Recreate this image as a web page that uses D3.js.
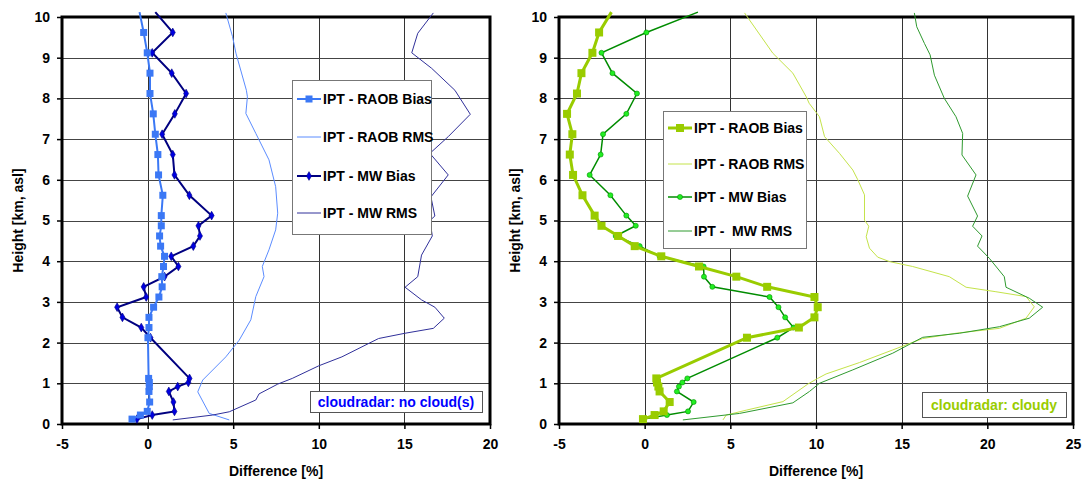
<!DOCTYPE html>
<html>
<head>
<meta charset="utf-8">
<script src="https://cdn.jsdelivr.net/npm/d3@7"></script>
<style>
    body { margin: 0; background: #fff; }
    svg { display: block; font-family: "Liberation Sans", Arial, sans-serif; }
</style>
</head>
<body>
<svg id="chart" width="1082" height="481"></svg>
<script>
"use strict";

// heights [km] of the bias profiles (levels with markers)
var biasHeights = [0.12, 0.22, 0.31, 0.54, 0.8, 0.92, 1.02, 1.12, 2.12, 2.37, 2.62, 2.87, 3.12, 3.37, 3.62, 3.87,
    4.12, 4.37, 4.62, 4.87, 5.12, 5.62, 6.12, 6.62, 7.12, 7.62, 8.12, 8.62, 9.12, 9.62, 10.12];

// left panel: no cloud(s)
var clearRaobBias = [-0.91, -0.42, -0.02, 0.12, 0.08, 0.1, 0.1, 0.06, 0.02, 0.08, 0.08, 0.35, 0.66, 0.85, 0.83, 0.93,
    0.99, 0.76, 0.7, 0.8, 0.8, 0.89, 0.64, 0.6, 0.45, 0.33, 0.14, 0.14, -0.02, -0.23, -0.47];
var clearMwBias = [-0.62, 0.27, 1.57, 1.51, 1.24, 1.76, 2.38, 2.45, 0.17, -0.37, -1.47, -1.78, -0.08, -0.23, 0.99, 1.8,
    1.38, 2.67, 3.06, 2.97, 3.74, 2.44, 1.57, 1.47, 0.85, 1.59, 2.25, 1.41, 0.27, 1.47, 0.45];
var clearRaobRmsH = [0.1, 0.26, 0.79, 1.08, 1.65, 2.06, 2.56, 3.13, 3.62, 3.87, 4.28, 4.77, 5.18, 5.83, 6.49, 6.98,
    7.14, 7.63, 8.04, 8.2, 9.11, 9.52, 10.1];
var clearRaobRms = [4.77, 3.6, 2.93, 3.22, 4.57, 5.35, 6.03, 6.32, 6.8, 6.7, 7.09, 7.48, 7.6, 7.48, 7.09, 6.51,
    6.32, 5.74, 5.83, 5.77, 5.16, 4.96, 4.57];
var clearMwRmsH = [0.1, 0.22, 0.3, 0.59, 0.74, 0.98, 1.12, 1.43, 1.65, 2.1, 2.23, 2.35, 2.6, 2.87, 3.05, 3.36, 3.62,
    4.15, 4.62, 5.0, 5.11, 5.58, 6.12, 6.65, 7.06, 7.61, 8.2, 8.74, 9.12, 9.6, 10.1];
var clearMwRms = [1.47, 3.8, 4.77, 6.32, 6.51, 7.6, 8.45, 10.0, 11.35, 13.49, 15.04, 16.69, 17.33, 16.78, 16.0, 15.04, 15.78,
    16.0, 16.63, 16.49, 16.78, 16.55, 17.56, 16.49, 17.56, 18.85, 17.95, 16.59, 15.43, 15.78, 16.69];

// right panel: cloudy
var cloudyRaobBias = [-0.1, 0.58, 1.11, 1.46, 0.87, 0.8, 0.72, 0.68, 5.97, 9.0, 9.91, 10.1, 9.91, 7.15, 5.35, 3.17,
    0.97, -0.58, -1.55, -2.52, -2.92, -3.63, -4.18, -4.37, -4.22, -4.53, -3.95, -3.69, -3.05, -2.66, -1.94];
var cloudyMwBias = [-0.06, 1.3, 2.53, 2.86, 1.88, 2.0, 2.2, 2.49, 7.74, 8.69, 8.2, 7.81, 7.29, 3.95, 3.46, 3.44,
    0.87, -0.29, -1.69, -0.52, -1.07, -2.0, -3.21, -2.57, -2.43, -1.07, -0.45, -1.88, -2.52, 0.1, 3.11];
var cloudyRaobRmsH = [0.1, 0.22, 0.34, 0.55, 0.98, 1.12, 1.23, 1.51, 1.82, 2.1, 2.23, 2.35, 2.6, 2.88, 3.13, 3.25,
    3.36, 3.62, 3.87, 3.99, 4.1, 4.32, 4.6, 4.86, 5.01, 5.63, 6.0, 6.24, 6.65, 7.06, 7.55, 7.88, 8.04, 8.62, 9.11, 10.1];
var cloudyRaobRms = [4.57, 4.76, 5.93, 8.07, 9.52, 10.1, 10.59, 12.54, 14.48, 16.23, 18.17, 20.7, 22.26, 22.74, 22.26, 20.5,
    18.76, 17.78, 15.64, 14.29, 13.6, 13.12, 12.93, 13.08, 12.83, 12.83, 12.44, 12.15, 11.37, 10.5, 10.2, 9.6, 9.43, 8.65, 7.48, 5.83];
var cloudyMwRmsH = [0.1, 0.26, 0.52, 0.8, 1.0, 1.33, 1.74, 2.13, 2.23, 2.39, 2.6, 2.87, 3.09, 3.36, 3.62, 4.07, 4.37,
    4.62, 4.86, 5.11, 5.6, 6.12, 6.61, 7.14, 7.55, 8.0, 8.57, 9.07, 9.35, 9.76, 10.1];
var cloudyMwRms = [2.23, 5.54, 8.65, 9.62, 10.2, 12.15, 14.48, 16.23, 18.37, 20.7, 22.45, 23.23, 22.45, 21.09, 20.99, 20.12, 19.43,
    19.69, 19.14, 19.43, 18.85, 19.34, 18.52, 18.56, 18.17, 17.49, 16.91, 16.66, 16.33, 15.88, 15.74];

var legendLabels = ["IPT - RAOB Bias", "IPT - RAOB RMS", "IPT - MW Bias", "IPT - MW RMS"],
    legendLabelsCloudy = ["IPT - RAOB Bias", "IPT - RAOB RMS", "IPT - MW Bias", "IPT -  MW RMS"],
    heightTicks = d3.range(0, 11),
    clearTicks = [-5, 0, 5, 10, 15, 20],
    cloudyTicks = [-5, 0, 5, 10, 15, 20, 25];

var svg = d3.select("#chart"),
    Top = 17,
    Bottom = 424,
    FontSize = 14;

function pairs(hs, vs) {
    return hs.map(function (h, i) { return { h: h, v: vs[i] }; });
}

function panel(opt) {
    var x = d3.scaleLinear().domain(opt.domain).range([opt.left, opt.right]);
    var y = d3.scaleLinear().domain([0, 10]).range([Bottom, Top]);
    var g = svg.append("g");

    // gridlines
    g.selectAll(".vgrid")
        .data(opt.ticks.slice(1, -1))
        .enter().append("line")
        .attr("x1", function (d) { return Math.round(x(d)) + 0.5; })
        .attr("x2", function (d) { return Math.round(x(d)) + 0.5; })
        .attr("y1", Top).attr("y2", Bottom)
        .attr("stroke", "#333").attr("stroke-width", 1);
    g.selectAll(".hgrid")
        .data(heightTicks.slice(1, -1))
        .enter().append("line")
        .attr("x1", opt.left).attr("x2", opt.right)
        .attr("y1", function (d) { return Math.round(y(d)) + 0.5; })
        .attr("y2", function (d) { return Math.round(y(d)) + 0.5; })
        .attr("stroke", "#444").attr("stroke-width", 1);

    // axes (plain hyphen for negatives, like the original)
    var xAxis = g.append("g")
        .attr("transform", "translate(0," + Bottom + ")")
        .call(d3.axisBottom(x).tickValues(opt.ticks).tickSize(5).tickPadding(10).tickFormat(function (d) { return String(d); }));
    var yAxis = g.append("g")
        .attr("transform", "translate(" + opt.left + ",0)")
        .call(d3.axisLeft(y).tickValues(heightTicks).tickSize(5).tickPadding(7));
    [xAxis, yAxis].forEach(function (a) {
        a.select(".domain").remove();
        a.selectAll("line").attr("stroke", "#000").attr("stroke-width", 1.5);
        a.selectAll("text").attr("font-size", FontSize).attr("font-weight", "bold")
            .attr("font-family", "'Liberation Sans', Arial, sans-serif").attr("fill", "#000");
    });

    // frame
    g.append("rect")
        .attr("x", opt.left).attr("y", Top)
        .attr("width", opt.right - opt.left).attr("height", Bottom - Top)
        .attr("fill", "none").attr("stroke", "#000").attr("stroke-width", 3);

    g.append("text")
        .attr("x", (opt.left + opt.right) / 2).attr("y", 476)
        .attr("text-anchor", "middle").attr("font-size", FontSize).attr("font-weight", "bold")
        .text("Difference [%]");
    g.append("text")
        .attr("transform", "translate(" + (opt.left - 39) + "," + ((Top + Bottom) / 2) + ") rotate(-90)")
        .attr("text-anchor", "middle").attr("font-size", FontSize).attr("font-weight", "bold")
        .text("Height [km, asl]");

    var line = d3.line()
        .x(function (d) { return x(d.v); })
        .y(function (d) { return y(d.h); });

    // RMS lines
    g.append("path").datum(pairs(opt.raobRmsH, opt.raobRms))
        .attr("d", line).attr("fill", "none")
        .attr("stroke", opt.colors.raobRms).attr("stroke-width", 1);
    g.append("path").datum(pairs(opt.mwRmsH, opt.mwRms))
        .attr("d", line).attr("fill", "none")
        .attr("stroke", opt.colors.mwRms).attr("stroke-width", 1);

    // MW bias
    var mw = pairs(biasHeights, opt.mwBias);
    g.append("path").datum(mw)
        .attr("d", line).attr("fill", "none")
        .attr("stroke", opt.colors.mwBias).attr("stroke-width", opt.mwWidth);
    g.selectAll(".mwpt")
        .data(mw.filter(function (d) { return d.h <= 10; }))
        .enter().append("path")
        .attr("transform", function (d) { return "translate(" + x(d.v) + "," + y(d.h) + ")"; })
        .attr("d", d3.symbol().type(opt.mwSymbol).size(opt.mwSymbolSize))
        .attr("fill", opt.colors.mwMarker)
        .attr("stroke", opt.colors.mwMarkerEdge).attr("stroke-width", 0.6);

    // RAOB bias
    var raob = pairs(biasHeights, opt.raobBias);
    g.append("path").datum(raob)
        .attr("d", line).attr("fill", "none")
        .attr("stroke", opt.colors.raobBias).attr("stroke-width", opt.raobWidth);
    g.selectAll(".raobpt")
        .data(raob.filter(function (d) { return d.h <= 10; }))
        .enter().append("rect")
        .attr("x", function (d) { return x(d.v) - opt.sq / 2; })
        .attr("y", function (d) { return y(d.h) - opt.sq / 2; })
        .attr("width", opt.sq).attr("height", opt.sq)
        .attr("fill", opt.colors.raobBias);

    // legend
    var L = opt.legend;
    var lg = g.append("g").attr("transform", "translate(" + L.x + "," + L.y + ")");
    lg.append("rect")
        .attr("x", 0.5).attr("y", 0.5).attr("width", L.w).attr("height", L.h)
        .attr("fill", "#fff").attr("stroke", "#777").attr("stroke-width", 1);
    var items = lg.selectAll(".item")
        .data(opt.labels)
        .enter().append("g")
        .attr("transform", function (d, i) { return "translate(0," + L.rows[i] + ")"; });
    var sw = [
        { c: opt.colors.raobBias, w: opt.raobWidth },
        { c: opt.colors.raobRms, w: 1 },
        { c: opt.colors.mwBias, w: opt.mwWidth },
        { c: opt.colors.mwRms, w: 1 }
    ];
    items.append("line")
        .attr("x1", 5).attr("x2", 29).attr("y1", 0).attr("y2", 0)
        .attr("stroke", function (d, i) { return sw[i].c; })
        .attr("stroke-width", function (d, i) { return sw[i].w; });
    items.filter(function (d, i) { return i === 0; }).append("rect")
        .attr("x", 17 - opt.sq / 2).attr("y", -opt.sq / 2)
        .attr("width", opt.sq).attr("height", opt.sq).attr("fill", opt.colors.raobBias);
    items.filter(function (d, i) { return i === 2; }).append("path")
        .attr("transform", "translate(17,0)")
        .attr("d", d3.symbol().type(opt.mwSymbol).size(opt.mwSymbolSize))
        .attr("fill", opt.colors.mwMarker)
        .attr("stroke", opt.colors.mwMarkerEdge).attr("stroke-width", 0.6);
    items.append("text")
        .attr("x", 31).attr("y", 5)
        .attr("font-size", FontSize).attr("font-weight", "bold")
        .style("white-space", "pre")
        .text(function (d) { return d; });

    // annotation box
    var A = opt.note;
    g.append("rect")
        .attr("x", A.x + 0.5).attr("y", A.y + 0.5).attr("width", A.w).attr("height", A.h)
        .attr("fill", "#fff").attr("stroke", "#555").attr("stroke-width", 1);
    g.append("text")
        .attr("x", A.x + A.w / 2).attr("y", A.y + A.h / 2 + 5)
        .attr("text-anchor", "middle").attr("font-size", FontSize).attr("font-weight", "bold")
        .attr("fill", A.color)
        .text(A.text);
}

panel({
    domain: [-5, 20], left: 62, right: 490, ticks: clearTicks,
    raobBias: clearRaobBias, mwBias: clearMwBias,
    raobRmsH: clearRaobRmsH, raobRms: clearRaobRms, mwRmsH: clearMwRmsH, mwRms: clearMwRms,
    colors: { raobBias: "#3b78f5", raobRms: "#5b8cff", mwBias: "#000080", mwRms: "#30309a", mwMarker: "#0000e0", mwMarkerEdge: "#000080" },
    raobWidth: 2, mwWidth: 2, sq: 7, mwSymbol: d3.symbolDiamond, mwSymbolSize: 22,
    labels: legendLabels,
    legend: { x: 292, y: 80, w: 139, h: 154, rows: [19, 57, 96, 133] },
    note: { x: 310, y: 391, w: 172, h: 21, color: "#0000ff", text: "cloudradar: no cloud(s)" }
});

panel({
    domain: [-5, 25], left: 559, right: 1073, ticks: cloudyTicks,
    raobBias: cloudyRaobBias, mwBias: cloudyMwBias,
    raobRmsH: cloudyRaobRmsH, raobRms: cloudyRaobRms, mwRmsH: cloudyMwRmsH, mwRms: cloudyMwRms,
    colors: { raobBias: "#99cc00", raobRms: "#c4e34a", mwBias: "#008c00", mwRms: "#2f9a2f", mwMarker: "#22ee22", mwMarkerEdge: "#009000" },
    raobWidth: 3, mwWidth: 1.5, sq: 8, mwSymbol: d3.symbolCircle, mwSymbolSize: 20,
    labels: legendLabelsCloudy,
    legend: { x: 663, y: 111, w: 143, h: 137, rows: [17, 53, 86, 120] },
    note: { x: 922, y: 392, w: 144, h: 25, color: "#99cc00", text: "cloudradar: cloudy" }
});
</script>
</body>
</html>
